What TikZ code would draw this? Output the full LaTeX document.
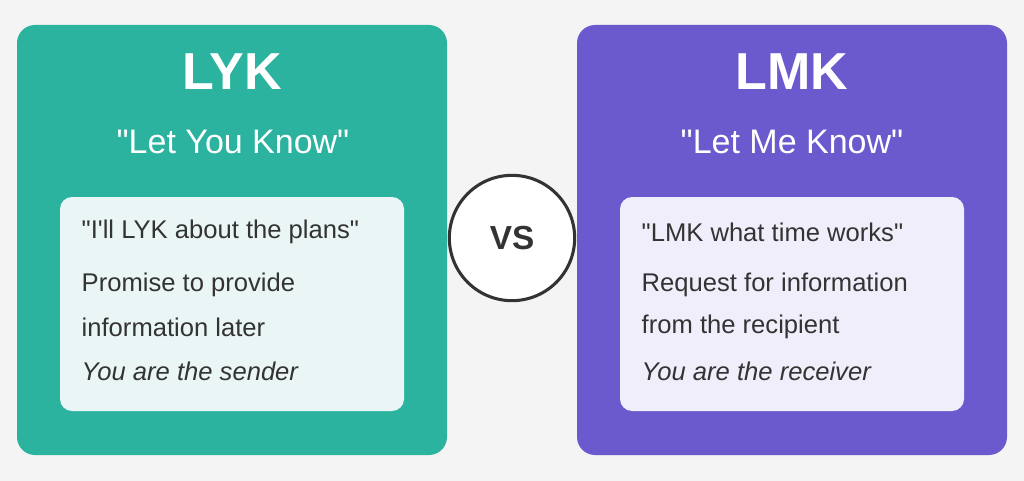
\documentclass[tikz,border=0pt]{standalone}
\usepackage{fontspec}
\newfontfamily\mainf{Liberation Sans}
\definecolor{bg}{HTML}{F4F4F4}
\definecolor{teal}{HTML}{2BB39F}
\definecolor{purp}{HTML}{6A5ACD}
\definecolor{lteal}{HTML}{EAF6F5}
\definecolor{lpurp}{HTML}{F0EEFA}
\definecolor{txt}{HTML}{333333}
\tikzset{
  panel/.style={rounded corners=13.5pt},
  title/.style={text=white,font=\mainf\fontsize{39}{44}\selectfont\bfseries,anchor=center},
  sub/.style={text=white,font=\mainf\fontsize{25.5}{30}\selectfont,anchor=center},
  body/.style={text=txt,font=\mainf\fontsize{19.2}{23}\selectfont,anchor=west},
  bodyit/.style={body,font=\mainf\fontsize{19.2}{23}\selectfont\itshape},
}
\begin{document}
\begin{tikzpicture}[x=0.75pt,y=-0.75pt]
\fill[bg] (0,0) rectangle (1024,481);
\useasboundingbox (0,0) rectangle (1024,481);
\fill[teal,panel] (17,25) rectangle (447,455);
\fill[purp,panel] (577,25) rectangle (1007,455);
\fill[lteal,rounded corners=9pt] (60,197) rectangle (404,411);
\fill[lpurp,rounded corners=9pt] (620,197) rectangle (964,411);
\node[title] (t1) at (232,72) {LYK};
\node[sub] (s1) at (233,142) {"Let You Know"};
\node[body] (a1) at (77,232) {"I'll LYK about the plans"};
\node[body] (a2) at (77,285) {Promise to provide};
\node[body] (a3) at (77,327) {information later};
\node[bodyit] (a4) at (77,371) {You are the sender};
\node[title] (t2) at (792,72) {LMK};
\node[sub] (s2) at (792,142) {"Let Me Know"};
\node[body] (b1) at (637,232) {"LMK what time works"};
\node[body] (b2) at (637,285) {Request for information};
\node[body] (b3) at (637,327) {from the recipient};
\node[bodyit] (b4) at (637,371) {You are the receiver};
\node[circle,fill=white,draw=txt,line width=2.3pt,minimum size=94pt,inner sep=0pt,text=txt,font=\mainf\fontsize{25}{29}\selectfont\bfseries] (vs) at (512,238) {VS};
\end{tikzpicture}
\end{document}
